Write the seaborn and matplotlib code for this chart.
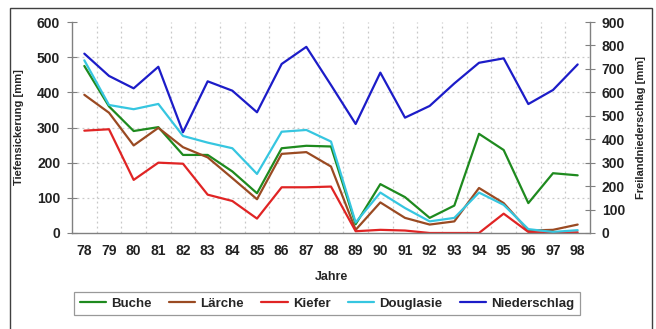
import matplotlib
matplotlib.use("Agg")
import matplotlib.pyplot as plt
import seaborn as sns
import pandas as pd
import numpy as np
from matplotlib.patches import Rectangle
from matplotlib.lines import Line2D
from matplotlib.ticker import MultipleLocator, FixedLocator

years = ["78", "79", "80", "81", "82", "83", "84", "85", "86", "87", "88",
         "89", "90", "91", "92", "93", "94", "95", "96", "97", "98"]
buche = [475, 360, 290, 301, 222, 222, 175, 113, 241, 248, 246,
         25, 139, 102, 43, 78, 282, 236, 85, 170, 164]
laerche = [393, 342, 249, 299, 244, 215, 156, 96, 225, 230, 189,
           9, 87, 43, 24, 33, 128, 85, 7, 9, 24]
kiefer = [291, 295, 151, 200, 197, 109, 91, 41, 130, 130, 132,
          5, 9, 7, 0, 0, 0, 55, 3, 0, 2]
douglasie = [491, 364, 352, 367, 276, 257, 241, 168, 288, 293, 260,
             30, 115, 71, 33, 43, 115, 80, 11, 3, 8]
niederschlag = [765, 670, 617, 709, 430, 647, 607, 515, 721, 794, 631,
                465, 684, 492, 542, 638, 726, 745, 550, 610, 719]

series_names = ["Buche", "Lärche", "Kiefer", "Douglasie"]
series_vals = [buche, laerche, kiefer, douglasie]
colors = {"Buche": "#1e8a1e", "Lärche": "#9a4a22", "Kiefer": "#e02424",
          "Douglasie": "#36c6e0", "Niederschlag": "#1c1cc8"}

sns.set_theme(style="white")
plt.rcParams['font.family'] = ['Liberation Sans', 'DejaVu Sans']
plt.rcParams['font.weight'] = 'bold'

idx = np.arange(len(years))
df = pd.DataFrame({
    "x": np.tile(idx, len(series_names)),
    "value": np.concatenate(series_vals),
    "Art": np.repeat(series_names, len(years)),
})
df_n = pd.DataFrame({"x": idx, "value": niederschlag})

fig = plt.figure(figsize=(6.56, 3.29), dpi=100)
ax = fig.add_axes([72/656, 1-233/329, (590-72)/656, (233-22)/329])
ax2 = ax.twinx()

sns.lineplot(data=df, x="x", y="value", hue="Art", palette=colors,
             hue_order=series_names, linewidth=1.6, ax=ax, legend=False)
sns.lineplot(data=df_n, x="x", y="value", color=colors["Niederschlag"],
             linewidth=1.6, ax=ax2, legend=False)

ax.set_xlim(-0.5, len(years) - 0.5)
ax.set_ylim(0, 600)
ax2.set_ylim(0, 900)
ax.set_xticks(idx)
ax.set_xticklabels(years)
ax.xaxis.set_minor_locator(FixedLocator(np.arange(-0.5, len(years), 1.0)))
ax.yaxis.set_major_locator(MultipleLocator(100))
ax2.yaxis.set_major_locator(MultipleLocator(100))

ax.grid(False)
ax2.grid(False)
for v in np.arange(0.5, len(years) - 0.5, 1.0):
    ax.axvline(v, color="#c8c8c8", linestyle=(0, (1.5, 2.5)), linewidth=0.9, zorder=0)
for h in range(100, 600, 100):
    ax.axhline(h, color="#c8c8c8", linestyle=(0, (1.5, 2.5)), linewidth=0.9, zorder=0)

for a in (ax, ax2):
    for s in a.spines.values():
        s.set_visible(False)
ax.spines["left"].set_visible(True)
ax.spines["bottom"].set_visible(True)
ax2.spines["right"].set_visible(True)
for s in (ax.spines["left"], ax.spines["bottom"], ax2.spines["right"]):
    s.set_color("#808080")
    s.set_linewidth(1.0)

ax.tick_params(axis="x", which="major", length=0, labelsize=10, pad=8)
ax.tick_params(axis="x", which="minor", length=5, direction="inout",
               color="#808080", width=0.8)
ax.tick_params(axis="y", length=7, direction="inout", color="#808080",
               width=0.8, labelsize=10, pad=5)
ax2.tick_params(axis="y", length=7, direction="inout", color="#808080",
                width=0.8, labelsize=10, pad=5)
for lab in ax.get_xticklabels() + ax.get_yticklabels() + ax2.get_yticklabels():
    lab.set_fontweight("bold")
    lab.set_color("#222222")

ax.set_xlabel("Jahre", fontsize=9, fontweight="bold", labelpad=9)
ax.set_ylabel("Tiefensickerung [mm]", fontsize=8, fontweight="bold", labelpad=9)
ax2.set_ylabel("Freilandniederschlag [mm]", fontsize=8, fontweight="bold", labelpad=8)

handles = [Line2D([0], [0], color=colors[n], linewidth=1.6)
           for n in series_names + ["Niederschlag"]]
leg = fig.legend(handles, series_names + ["Niederschlag"], ncol=5,
                 loc="center", bbox_to_anchor=(327/656, 1-303.5/329),
                 frameon=True, fancybox=False,
                 handlelength=2.0, handletextpad=0.4, columnspacing=1.3,
                 borderpad=0.4, prop={"weight": "bold", "size": 9.5})
leg.get_frame().set_edgecolor("#808080")
leg.get_frame().set_linewidth(0.9)

fig.patches.append(Rectangle((10/656, -0.02), (652-10)/656, 1.02-8/329,
                             transform=fig.transFigure, fill=False,
                             edgecolor="#404040", linewidth=1.0))

fig.savefig("out.png", dpi=100)
